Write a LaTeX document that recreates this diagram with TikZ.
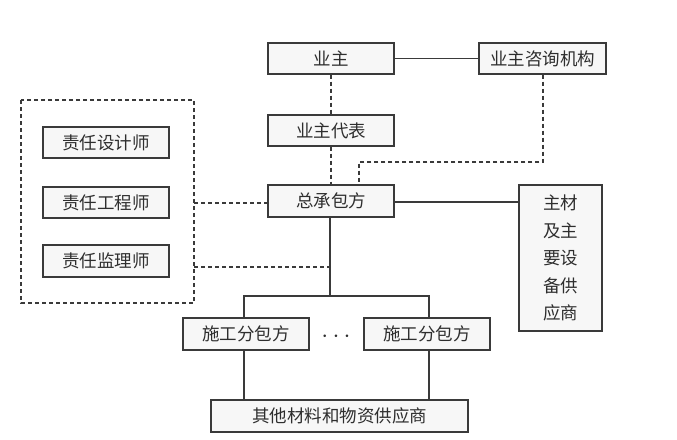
\documentclass[tikz,border=0pt]{standalone}
\usepackage{fontspec}
\newfontfamily\cjk{Noto Sans CJK SC}
\definecolor{linec}{HTML}{3A3A3A}
\definecolor{boxfill}{HTML}{F7F7F7}
\definecolor{txtc}{HTML}{2E2E2E}
\tikzset{
  box/.style={draw=linec, line width=1.2pt, fill=boxfill, inner sep=0pt, text=txtc,
    font=\cjk\fontsize{17.5}{27.5}\selectfont, align=center},
  conn/.style={draw=linec, line width=1.2pt},
  dconn/.style={draw=linec, line width=1.1pt, dash pattern=on 4pt off 3pt},
}
\begin{document}
\begin{tikzpicture}[x=1pt,y=-1pt]
\useasboundingbox (0,0) rectangle (677,439);
% outer dashed group
\draw[dconn] (21,100) rectangle (194,303);
\coordinate (grpR1) at (194,203);
\coordinate (grpR2) at (194,267);
% boxes
\node[box, minimum width=126pt, minimum height=31pt] (yz) at (331,58.5) {业主};
\node[box, minimum width=127pt, minimum height=31pt] (zx) at (542.5,58.5) {业主咨询机构};
\node[box, minimum width=126pt, minimum height=31pt] (db) at (331,130.5) {业主代表};
\node[box, minimum width=126pt, minimum height=32pt] (zcb) at (331,201) {总承包方};
\node[box, minimum width=83pt, minimum height=146pt] (zc) at (560.5,258) {主材\\及主\\要设\\备供\\应商};
\node[box, minimum width=126pt, minimum height=31pt] (sj) at (106,142.5) {责任设计师};
\node[box, minimum width=126pt, minimum height=31pt] (gc) at (106,202.5) {责任工程师};
\node[box, minimum width=126pt, minimum height=32pt] (jl) at (106,261) {责任监理师};
\node[box, minimum width=126pt, minimum height=32pt] (fb1) at (246,334) {施工分包方};
\node[box, minimum width=126pt, minimum height=32pt] (fb2) at (427,334) {施工分包方};
\node[box, minimum width=257pt, minimum height=32pt] (qt) at (339.5,416) {其他材料和物资供应商};
\node[text=txtc, font=\fontsize{24}{24}\selectfont, inner sep=0pt] (dots) at (336,337) {$\cdots$};
% connectors
\draw[conn] (yz.east) -- (zx.west);
\draw[dconn] (yz.south) -- (db.north);
\draw[dconn] (db.south) -- (zcb.north);
\coordinate (c1) at (543,162);
\coordinate (c2) at (359,162);
\draw[dconn] (zx.south -| c1) -- (c1) -- (c2) -- (zcb.north -| c2);
\draw[conn] (zcb.east |- 0,202) -- (zc.west |- 0,202);
\draw[dconn] (grpR1) -- (zcb.west |- grpR1);
\coordinate (mid) at (330,296);
\coordinate (jn) at (330,267);
\draw[dconn] (grpR2) -- (jn);
\draw[conn] (zcb.south -| mid) -- (mid);
\draw[conn] (fb1.north -| 244,0) |- (mid) -| (fb2.north -| 429,0);
\draw[conn] (fb1.south -| 244,0) -- (qt.north -| 244,0);
\draw[conn] (fb2.south -| 429,0) -- (qt.north -| 429,0);
\end{tikzpicture}
\end{document}
